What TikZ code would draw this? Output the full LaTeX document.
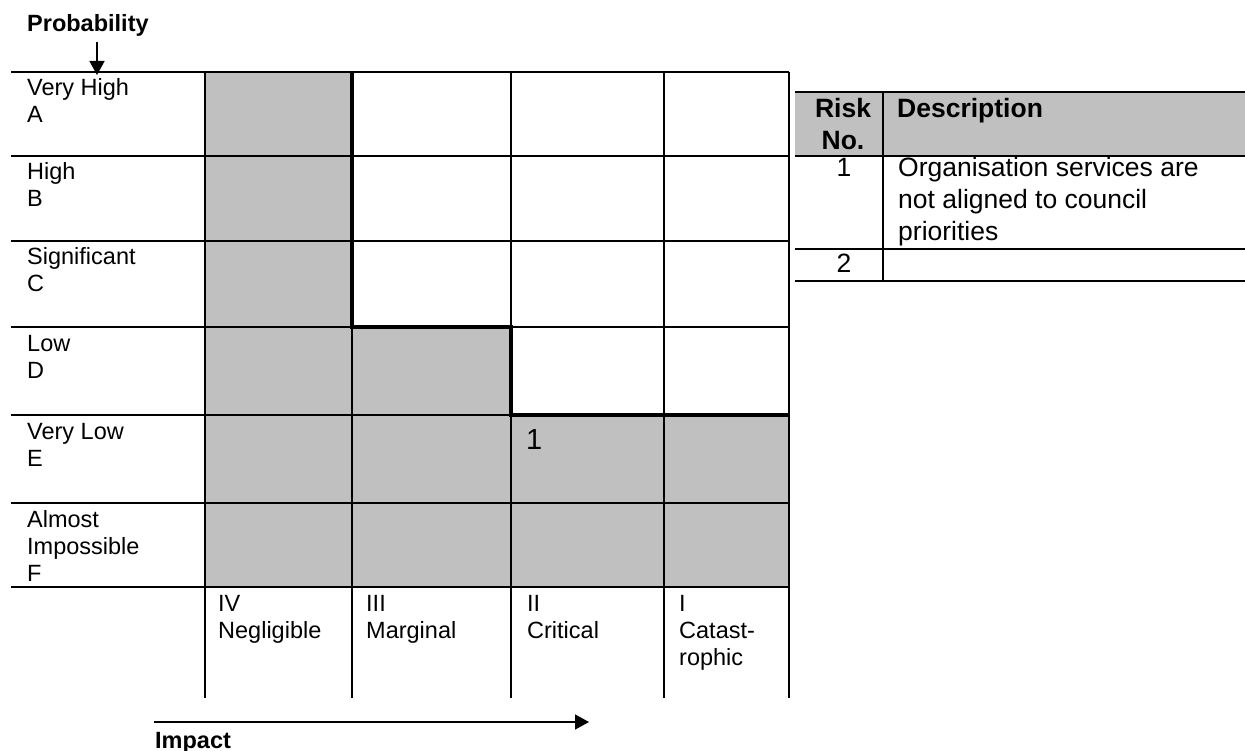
\documentclass[tikz,border=0pt]{standalone}
\usepackage{fontspec}
\setmainfont{Liberation Sans}
\usetikzlibrary{arrows.meta}
\definecolor{cellgrey}{RGB}{192,192,192}
\tikzset{
  thinline/.style={line width=1.5pt},
  heavyline/.style={line width=4.5pt},
  lbl/.style={anchor=base west, inner sep=0pt, align=left, font=\fontsize{23.5}{27}\selectfont},
  tbl/.style={anchor=base west, inner sep=0pt, align=left, font=\fontsize{26.5}{32}\selectfont},
  tblc/.style={anchor=base, inner sep=0pt, align=center, font=\fontsize{26.5}{32}\selectfont},
  tblhead/.style={font=\bfseries\fontsize{26.5}{32}\selectfont},
  axis/.style={anchor=base west, inner sep=0pt, font=\bfseries\fontsize{23.5}{27}\selectfont},
  pointer/.style={line width=1.5pt, -{Triangle[length=14pt,width=15pt]}},
}
\begin{document}
\begin{tikzpicture}[x=1pt,y=-1pt]
\useasboundingbox (0,0) rectangle (1245,751);
% grey cells
\fill[cellgrey] (205,72) rectangle (352,587);
\fill[cellgrey] (352,327) rectangle (511,587);
\fill[cellgrey] (511,415) rectangle (789,587);
% horizontal grid lines
\foreach \yy in {72,156,241,327,415,503,587}
  \draw[thinline] (11,\yy) -- (789,\yy);
% vertical grid lines
\foreach \xx in {205,352,511,664,789}
  \draw[thinline] (\xx,72) -- (\xx,698);
% risk boundary
\draw[heavyline] (352,72) -- (352,327) -- (511,327) -- (511,415) -- (789,415);
% row labels (anchored at the baseline of the last line)
\node[lbl] (rA) at (27,123) {Very High\\A};
\node[lbl] (rB) at (27,207) {High\\B};
\node[lbl] (rC) at (27,292) {Significant\\C};
\node[lbl] (rD) at (27,378) {Low\\D};
\node[lbl] (rE) at (27,466) {Very Low\\E};
\node[lbl] (rF) at (27,581) {Almost\\Impossible\\F};
% column labels
\node[lbl] (c4) at (218,638) {IV\\Negligible};
\node[lbl] (c3) at (366,638) {III\\Marginal};
\node[lbl] (c2) at (527,638) {II\\Critical};
\node[lbl] (c1) at (679,665) {I\\Catast-\\rophic};
% risk marker
\node[anchor=base west, inner sep=0pt, font=\fontsize{29}{33}\selectfont] (risk1) at (526,449) {1};
% axis titles and arrows
\node[axis] (prob) at (27,32) {Probability};
\coordinate (pa) at (97,42);
\coordinate (pb) at (97,75);
\draw[pointer] (pa) -- (pb);
\coordinate (ia) at (154,722);
\coordinate (ib) at (589,722);
\draw[pointer] (ia) -- (ib);
\node[axis] (imp) at (155,748) {Impact};
% legend table
\fill[cellgrey] (795,92) rectangle (1245,156);
\draw[line width=2pt] (795,92) -- (1245,92);
\draw[thinline] (795,156) -- (1245,156);
\draw[thinline] (795,249) -- (1245,249);
\draw[line width=2pt] (795,281) -- (1245,281);
\draw[thinline] (883,92) -- (883,281);
\node[tblc, tblhead] (hrisk) at (843,150) {Risk\\No.};
\node[tbl, tblhead] (hdesc) at (897,118) {Description};
\node[tblc] (n1) at (844,177) {1};
\node[tbl] (d1) at (898,241) {Organisation services are\\not aligned to council\\priorities};
\node[tblc] (n2) at (844,273) {2};
\end{tikzpicture}
\end{document}
